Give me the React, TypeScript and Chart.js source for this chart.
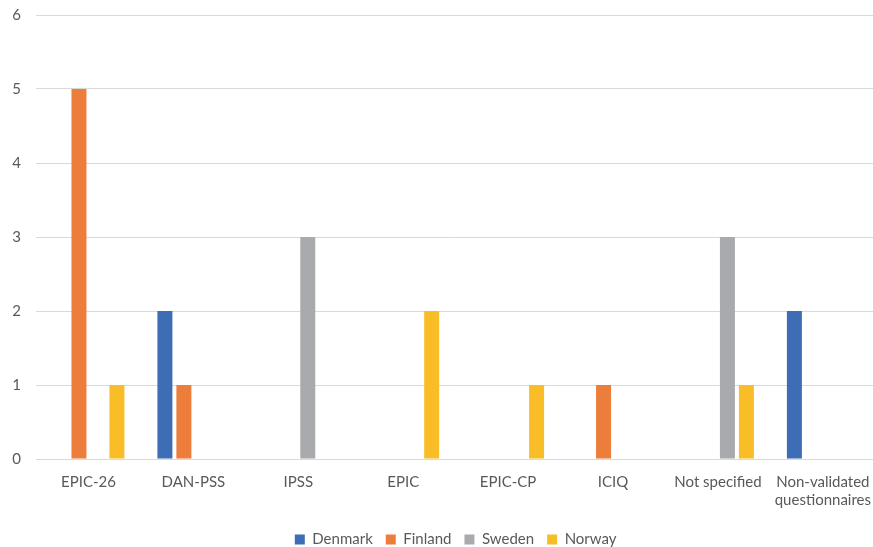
import React, { useEffect, useRef } from "react";
import { Chart, registerables } from "chart.js";

Chart.register(...registerables);

const categories: (string | string[])[] = [
  "EPIC-26",
  "DAN-PSS",
  "IPSS",
  "EPIC",
  "EPIC-CP",
  "ICIQ",
  "Not specified",
  ["Non-validated", "questionnaires"],
];

const denmark = [0, 2, 0, 0, 0, 0, 0, 2];
const finland = [5, 1, 0, 0, 0, 1, 0, 0];
const sweden = [0, 0, 3, 0, 0, 0, 3, 0];
const norway = [1, 0, 0, 2, 1, 0, 1, 0];

const yTicks = [0, 1, 2, 3, 4, 5, 6];

const TEXT = "#595959";
const GRID = "#D9D9D9";
const FONT = "Lato, 'Open Sans', sans-serif";

const W = 885;
const H = 566;
const SHIFT = -9;

export default function App() {
  const canvasRef = useRef<HTMLCanvasElement | null>(null);

  useEffect(() => {
    document.body.style.margin = "0";
    document.body.style.overflow = "hidden";
    const ctx = canvasRef.current;
    if (!ctx) return;
    const chart = new Chart(ctx, {
      type: "bar",
      data: {
        labels: categories,
        datasets: [
          { label: "Denmark", data: denmark, backgroundColor: "#3D6DB5" },
          { label: "Finland", data: finland, backgroundColor: "#ED7D3A" },
          { label: "Sweden", data: sweden, backgroundColor: "#A9AAAD" },
          { label: "Norway", data: norway, backgroundColor: "#F9BD27" },
        ],
      },
      options: {
        responsive: false,
        animation: false,
        datasets: {
          bar: { categoryPercentage: 0.7235, barPercentage: 0.79 },
        },
        layout: { padding: 0 },
        plugins: {
          tooltip: { enabled: false },
          legend: {
            position: "bottom",
            fullSize: false,
            labels: {
              boxWidth: 10,
              boxHeight: 10,
              padding: 13,
              color: TEXT,
              font: { family: FONT, size: 15 },
            },
          },
        },
        scales: {
          x: {
            grid: { display: false, drawTicks: false },
            border: { display: false },
            ticks: {
              color: TEXT,
              font: { family: FONT, size: 15 },
              padding: 14,
              maxRotation: 0,
              autoSkip: false,
            },
            afterFit: (scale: any) => {
              scale.height = 60;
            },
          },
          y: {
            min: 0,
            max: 6,
            afterBuildTicks: (scale: any) => {
              scale.ticks = yTicks.map((v) => ({ value: v }));
            },
            grid: { color: GRID, drawTicks: false, lineWidth: 1 },
            border: { display: false },
            ticks: {
              color: TEXT,
              font: { family: FONT, size: 15 },
              padding: 15,
            },
            afterFit: (scale: any) => {
              scale.width = 36;
            },
          },
        },
      },
    });
    return () => chart.destroy();
  }, []);

  return (
    <div style={{ width: W, height: H + SHIFT, overflow: "hidden" }}>
      <canvas
        ref={canvasRef}
        width={W}
        height={H}
        style={{ display: "block", marginTop: SHIFT }}
      />
    </div>
  );
}
